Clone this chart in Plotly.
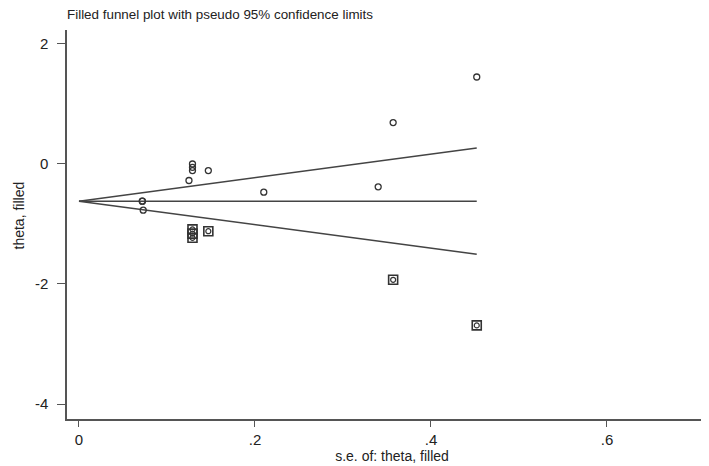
import plotly.graph_objects as go

# Observed studies (hollow circles)
se_obs = [0.072, 0.072, 0.073, 0.129, 0.129, 0.129, 0.125, 0.147, 0.21, 0.34, 0.357, 0.452]
theta_obs = [-0.62, -0.62, -0.77, 0.0, -0.055, -0.11, -0.275, -0.11, -0.47, -0.38, 0.69, 1.45]

# Filled (imputed) studies (squares with circle)
se_fill = [0.129, 0.129, 0.129, 0.147, 0.357, 0.452]
theta_fill = [-1.09, -1.16, -1.23, -1.12, -1.93, -2.69]

pooled = -0.62
se_max = 0.452

x_ticks = [0, 0.2, 0.4, 0.6]
x_tick_labels = ["0", ".2", ".4", ".6"]
y_ticks = [-4, -2, 0, 2]
y_tick_labels = ["-4", "-2", "0", "2"]

line_color = "#444444"
mark_color = "#333333"

fig = go.Figure()

se_line = [0, se_max]
fig.add_trace(go.Scatter(x=se_line, y=[pooled + 1.96 * s for s in se_line], mode="lines",
                         line=dict(color=line_color, width=1.5), showlegend=False, hoverinfo="skip"))
fig.add_trace(go.Scatter(x=se_line, y=[pooled - 1.96 * s for s in se_line], mode="lines",
                         line=dict(color=line_color, width=1.5), showlegend=False, hoverinfo="skip"))
fig.add_trace(go.Scatter(x=se_line, y=[pooled, pooled], mode="lines",
                         line=dict(color=line_color, width=1.5), showlegend=False, hoverinfo="skip"))

fig.add_trace(go.Scatter(x=se_fill, y=theta_fill, mode="markers",
                         marker=dict(symbol="square-open", size=9, color=mark_color, line=dict(width=1.6)),
                         showlegend=False))
fig.add_trace(go.Scatter(x=se_fill, y=theta_fill, mode="markers",
                         marker=dict(symbol="circle-open", size=5, color=mark_color, line=dict(width=1.2)),
                         showlegend=False))
fig.add_trace(go.Scatter(x=se_obs, y=theta_obs, mode="markers",
                         marker=dict(symbol="circle-open", size=6, color=mark_color, line=dict(width=1.3)),
                         showlegend=False))

font_family = "Liberation Sans, Arial, sans-serif"

fig.update_layout(
    width=709, height=466,
    margin=dict(l=59, r=0, t=22, b=55),
    paper_bgcolor="white", plot_bgcolor="white",
    font=dict(family=font_family, size=14, color="#222222"),
    title=dict(text="Filled funnel plot with pseudo 95% confidence limits",
               x=59 / 709, xanchor="left", y=1 - 6 / 466, yanchor="middle",
               pad=dict(l=0, r=0, t=0, b=0),
               font=dict(size=13.4, color="#222222")),
    xaxis=dict(range=[-0.0136, 0.725], tickvals=x_ticks, ticktext=x_tick_labels,
               showgrid=False, zeroline=False, showline=True, linecolor="#555555", linewidth=1.5,
               ticks="outside", ticklen=6, tickcolor="#555555", tickwidth=1,
               tickfont=dict(size=15),
               title=dict(text="s.e. of: theta, filled", standoff=0, font=dict(size=14))),
    yaxis=dict(range=[-4.25, 2.233], tickvals=y_ticks, ticktext=y_tick_labels,
               showgrid=False, zeroline=False, showline=True, linecolor="#555555", linewidth=1.5,
               ticks="outside", ticklen=8, tickcolor="#555555", tickwidth=1,
               ticklabelstandoff=6,
               tickfont=dict(size=15)),
    annotations=[dict(text="theta, filled", textangle=-90, xref="paper", yref="paper",
                      x=0, y=0.5, xanchor="center", yanchor="middle", xshift=-49, yshift=9,
                      showarrow=False, font=dict(size=14, color="#222222"))],
)

fig.write_html("out.html")
